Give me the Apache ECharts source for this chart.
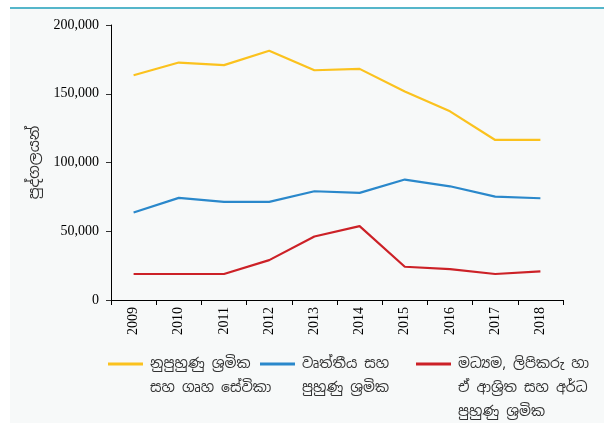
<!DOCTYPE html>
<html>
<head>
<meta charset="utf-8">
<script src="https://cdn.jsdelivr.net/npm/echarts@6/dist/echarts.min.js"></script>
<style>
  html, body { margin: 0; padding: 0; background: #fff; }
  #main { width: 604px; height: 423px; }
</style>
</head>
<body>
<div id="main"></div>
<script>
// data
const years = ['2009', '2010', '2011', '2012', '2013', '2014', '2015', '2016', '2017', '2018'];
const unskilled = [163500, 172700, 170800, 181300, 167100, 168100, 151700, 137200, 116400, 116400];
const professional = [63600, 74300, 71400, 71400, 79100, 77900, 87600, 82700, 75200, 74000];
const middle = [18900, 18900, 18900, 29000, 46200, 53700, 24200, 22500, 18900, 20800];

const names = [
  'නුපුහුණු ශ්‍රමික\nසහ ගෘහ සේවිකා',
  'වෘත්තීය සහ\nපුහුණු ශ්‍රමික',
  'මධ්‍යම, ලිපිකරු හා\nඒ ආශ්‍රිත සහ අර්ධ\nපුහුණු ශ්‍රමික'
];
const colors = ['#fbc21e', '#2a88cb', '#cc2127'];

const chart = echarts.init(document.getElementById('main'));

const serif = '"Liberation Serif", "DejaVu Serif", serif';
const LH = 24;

// one legend per item; the icon is a tall path with the line at its top,
// so the line sits next to the first text line instead of the middle
function legendFor(i, left) {
  const lines = names[i].split('\n').length;
  const h = (lines - 1) * LH + 3;
  return {
    data: [names[i]],
    left: left,
    top: 352,
    padding: 0,
    icon: 'path://M0,0H35V3H0Z M0,' + h + 'H35V' + (h + 0.01) + 'H0Z',
    itemWidth: 35,
    itemHeight: h,
    itemGap: 0,
    itemStyle: { borderWidth: 0 },
    textStyle: {
      fontFamily: '"Noto Sans Sinhala", "Noto Sans", sans-serif',
      fontSize: 14,
      color: '#333',
      lineHeight: LH,
      padding: [0, 0, 0, 2]
    }
  };
}

const option = {
  animation: false,
  backgroundColor: '#fff',
  graphic: [
    { type: 'rect', shape: { x: 10, y: 9, width: 594, height: 414 }, style: { fill: '#f7f9f9' }, z: -10 },
    { type: 'rect', shape: { x: 10, y: 7, width: 594, height: 2 }, style: { fill: '#55b6ca' }, z: -10 }
  ],
  grid: { left: 111, right: 41, top: 25, bottom: 123 },
  legend: [legendFor(0, 108), legendFor(1, 260), legendFor(2, 416)],
  xAxis: {
    type: 'category',
    data: years,
    boundaryGap: true,
    axisLine: { lineStyle: { color: '#000', width: 1 } },
    axisTick: { show: true, length: 5, lineStyle: { color: '#000' } },
    axisLabel: { rotate: 90, margin: 7, fontFamily: serif, fontSize: 14, color: '#000' }
  },
  yAxis: {
    type: 'value',
    min: 0,
    max: 200000,
    interval: 50000,
    name: 'පුද්ගලයන්',
    nameLocation: 'middle',
    nameGap: 65,
    nameTextStyle: { fontFamily: '"Noto Sans Sinhala", "Noto Sans", sans-serif', fontSize: 15, color: '#333' },
    splitLine: { show: false },
    axisLine: { show: true, lineStyle: { color: '#000', width: 1 } },
    axisTick: { show: true, length: 5, lineStyle: { color: '#333' } },
    axisLabel: {
      margin: 12,
      fontFamily: serif,
      fontSize: 14,
      color: '#000',
      formatter: v => v.toLocaleString('en-US')
    }
  },
  series: [
    { name: names[0], type: 'line', data: unskilled, symbol: 'none', color: colors[0], lineStyle: { width: 2.2 } },
    { name: names[1], type: 'line', data: professional, symbol: 'none', color: colors[1], lineStyle: { width: 2.2 } },
    { name: names[2], type: 'line', data: middle, symbol: 'none', color: colors[2], lineStyle: { width: 2.2 } }
  ]
};

option && chart.setOption(option);
</script>
</body>
</html>
